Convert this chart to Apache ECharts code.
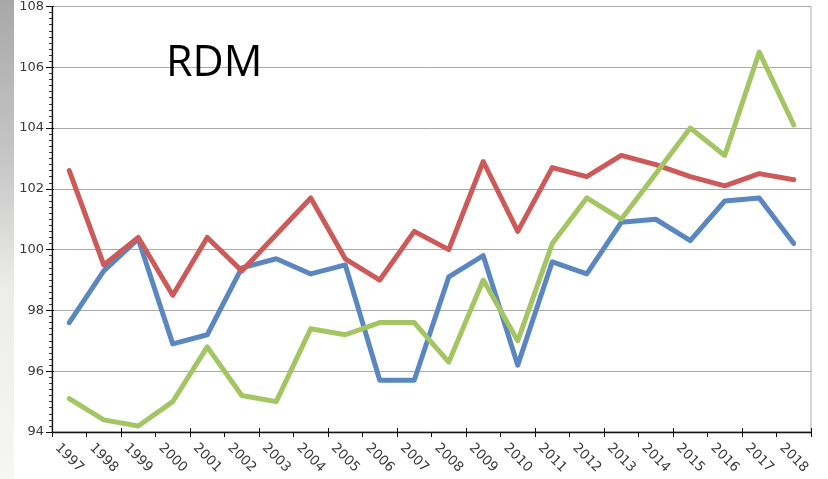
<!DOCTYPE html>
<html>
<head>
<meta charset="utf-8">
<script src="https://cdn.jsdelivr.net/npm/echarts@6/dist/echarts.min.js"></script>
<style>html,body{margin:0;padding:0;background:#fff;}#c{width:828px;height:479px;}</style>
</head>
<body>
<div id="c"></div>
<script>
const years = ['1997','1998','1999','2000','2001','2002','2003','2004','2005','2006','2007','2008','2009','2010','2011','2012','2013','2014','2015','2016','2017','2018'];
const redSeries = [102.6,99.5,100.4,98.5,100.4,99.3,100.5,101.7,99.7,99.0,100.6,100.0,102.9,100.6,102.7,102.4,103.1,102.8,102.4,102.1,102.5,102.3];
const blueSeries = [97.6,99.3,100.35,96.9,97.2,99.4,99.7,99.2,99.5,95.7,95.7,99.1,99.8,96.2,99.6,99.2,100.9,101.0,100.3,101.6,101.7,100.2];
const greenSeries = [95.1,94.4,94.2,95.0,96.8,95.2,95.0,97.4,97.2,97.6,97.6,96.3,99.0,97.0,100.2,101.7,101.0,102.5,104.0,103.1,106.5,104.1];
const yMin = 94, yMax = 108, yStep = 2;

const chart = echarts.init(document.getElementById('c'), null, {renderer: 'canvas'});
const lineStyle = (c) => ({width: 5, color: c, cap: 'round', join: 'round'});
chart.setOption({
  animation: false,
  backgroundColor: '#fff',
  graphic: [
    {type: 'rect', left: 0, top: 0, z: -10, shape: {width: 14, height: 479},
     style: {fill: new echarts.graphic.LinearGradient(0, 0, 0, 1, [
       {offset: 0, color: '#a8a8a8'}, {offset: 0.35, color: '#c8c8c8'},
       {offset: 0.6, color: '#ececea'}, {offset: 1, color: '#f6f6f4'}])}}
  ],
  title: {
    text: 'RDM', left: 161, top: 37,
    textStyle: {fontFamily: 'Open Sans', fontWeight: 'normal', fontSize: 43, color: '#000'}
  },
  grid: {left: 52, right: 17, top: 4, bottom: 47, show: true, borderColor: '#aaa', borderWidth: 1},
  xAxis: [
    {type: 'category', data: years, boundaryGap: true,
     axisLine: {lineStyle: {color: '#111', width: 1.3}},
     axisTick: {show: true, length: 5, alignWithLabel: false, lineStyle: {color: '#111'}},
     axisLabel: {rotate: -45, align: 'center', verticalAlign: 'middle', margin: 26,
       fontFamily: 'DejaVu Sans', fontSize: 13.5, color: '#3a3a3a', interval: 0},
     splitLine: {show: false}},
    {type: 'category', data: years, boundaryGap: true, position: 'bottom',
     axisLine: {show: false},
     axisTick: {show: true, inside: true, length: 4, lineStyle: {color: '#111'}},
     axisLabel: {show: false}, splitLine: {show: false}}
  ],
  yAxis: [
    {type: 'value', min: yMin, max: yMax, interval: yStep,
     axisLine: {show: true, lineStyle: {color: '#111', width: 1.3}},
     axisTick: {show: true, length: 6, lineStyle: {color: '#111'}},
     minorTick: {show: true, splitNumber: 10, length: 3, lineStyle: {color: '#333'}},
     axisLabel: {margin: 8, fontFamily: 'DejaVu Sans', fontSize: 13, color: '#3a3a3a'},
     splitLine: {show: true, lineStyle: {color: '#aaa', width: 1}}},
    {type: 'value', min: yMin, max: yMax, interval: yStep, position: 'left',
     axisLine: {show: false},
     axisTick: {show: true, inside: true, length: 2, lineStyle: {color: '#111'}},
     axisLabel: {show: false}, splitLine: {show: false}}
  ],
  series: [
    {type: 'line', data: redSeries, showSymbol: false, lineStyle: lineStyle('#cc5a58'), z: 3},
    {type: 'line', data: blueSeries, showSymbol: false, lineStyle: lineStyle('#5b87c0'), z: 2},
    {type: 'line', data: greenSeries, showSymbol: false, lineStyle: lineStyle('#a3c564'), z: 4}
  ]
});
</script>
</body>
</html>
